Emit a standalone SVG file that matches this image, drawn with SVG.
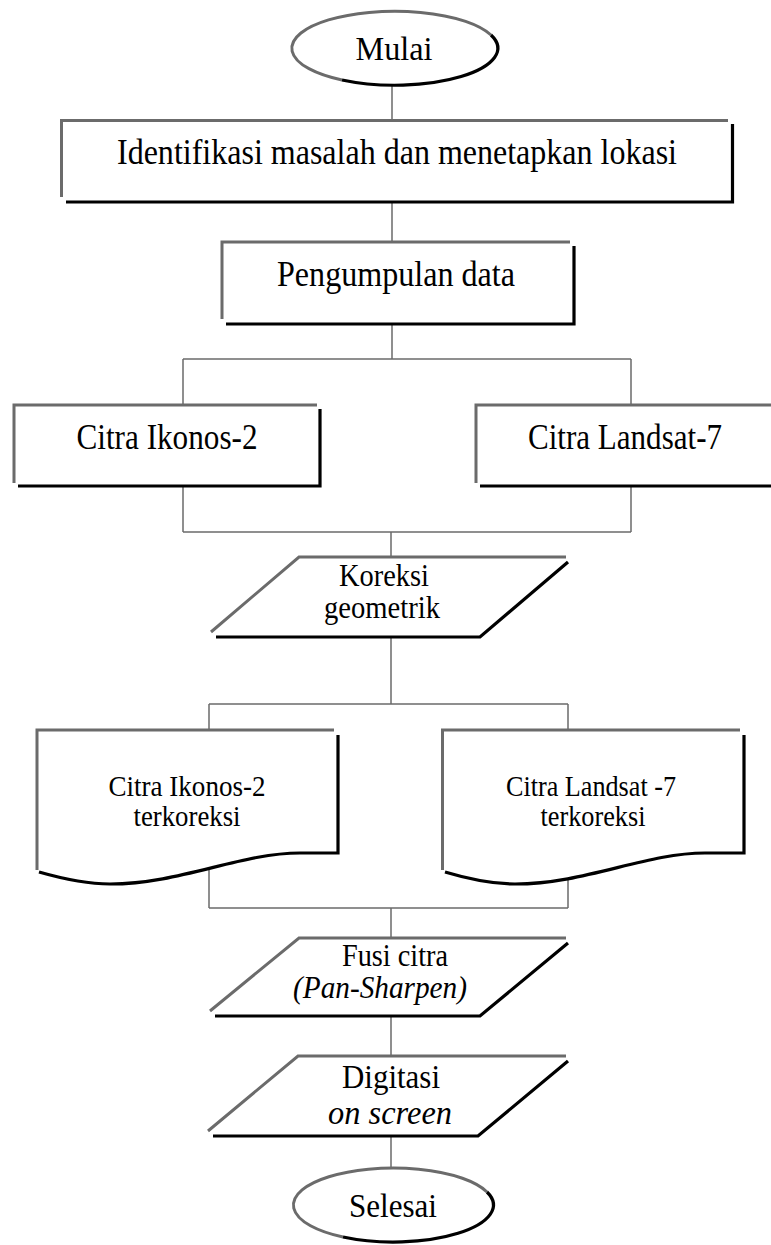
<svg xmlns="http://www.w3.org/2000/svg" width="771" height="1245" viewBox="0 0 771 1245">
<style>
.bg{fill:#fff}
.g{fill:none;stroke:#6b6b6b;stroke-width:3}
.k{fill:none;stroke:#000;stroke-width:3.2}
.c{fill:none;stroke:#6b6b6b;stroke-width:1.5}
.f{fill:#fff;stroke:none}
text{font-family:"Liberation Serif","Times New Roman",serif;fill:#000;text-anchor:middle}
.t32{font-size:32px}
.t36{font-size:36px}
.t31{font-size:31px}
.t30{font-size:30px}
.t33{font-size:33px}
.it{font-style:italic}
</style>
<rect class="bg" x="0" y="0" width="771" height="1245"/>
<g id="connectors">
<path class="c" d="M392 85V120M392 202V242M392 324V359M183 359H631M183 359V405M631 359V405"/>
<path class="c" d="M183 486V532M631 486V532M183 532H631M391 532V557"/>
<path class="c" d="M391 637V704M209 704H568M209 704V730M568 704V730"/>
<path class="c" d="M209 870V908M568 870V908M209 908H568M391 908V938"/>
<path class="c" d="M391 1016V1056M391 1136V1168"/>
</g>
<g id="mulai">
<ellipse class="f" cx="394" cy="48" rx="103" ry="37"/>
<path class="g" d="M342 80 A103 37 0 1 1 491 35"/>
<path class="k" d="M491 35 A103 37 0 0 1 342 80"/>
<text class="t32" x="394" y="60" style="font-size:33px" textLength="77" lengthAdjust="spacingAndGlyphs">Mulai</text>
</g>
<g id="identifikasi">
<path class="g" d="M61.5 197V120.5H728"/>
<path class="k" d="M732.5 124V202H66"/>
<text class="t36" x="397" y="164" textLength="560" lengthAdjust="spacingAndGlyphs">Identifikasi masalah dan menetapkan lokasi</text>
</g>
<g id="pengumpulan">
<path class="g" d="M222 319V242H570"/>
<path class="k" d="M574 246V324H226"/>
<text class="t36" x="396" y="286" textLength="238" lengthAdjust="spacingAndGlyphs">Pengumpulan data</text>
</g>
<g id="ikonos">
<path class="g" d="M14 483V405H317"/>
<path class="k" d="M320 409V486H18"/>
<text class="t36" x="167" y="449" textLength="181" lengthAdjust="spacingAndGlyphs">Citra Ikonos-2</text>
</g>
<g id="landsat">
<path class="g" d="M476 483V405H780"/>
<path class="k" d="M780 409V486H480"/>
<text class="t36" x="625" y="449" textLength="194" lengthAdjust="spacingAndGlyphs">Citra Landsat-7</text>
</g>
<g id="koreksi">
<path class="f" d="M299 557H567L480 637H212Z"/>
<path class="g" d="M211 632L299 557H566"/>
<path class="k" d="M568 562L480 637H216"/>
<text class="t31" x="384" y="586" textLength="90" lengthAdjust="spacingAndGlyphs">Koreksi</text>
<text class="t31" x="382" y="618" textLength="116" lengthAdjust="spacingAndGlyphs">geometrik</text>
</g>
<g id="ikonos-terkoreksi">
<path class="f" d="M37 730H338V853H300C240 853 180 884 110 884C85 884 60 878 37 872Z"/>
<path class="g" d="M37 870V730H334"/>
<path class="k" d="M338 735V853H300C240 853 180 884 110 884C85 884 60 878 39 872"/>
<text class="t30" x="187" y="796" textLength="157" lengthAdjust="spacingAndGlyphs">Citra Ikonos-2</text>
<text class="t30" x="187" y="826" textLength="107" lengthAdjust="spacingAndGlyphs">terkoreksi</text>
</g>
<g id="landsat-terkoreksi">
<path class="f" d="M442.5 730H744V853H705C645 853 585 884 515 884C490 884 465 878 442.5 872Z"/>
<path class="g" d="M442.5 870V730H740"/>
<path class="k" d="M744 735V853H705C645 853 585 884 515 884C490 884 465 878 445 872"/>
<text class="t30" x="591" y="796" textLength="170" lengthAdjust="spacingAndGlyphs">Citra Landsat -7</text>
<text class="t30" x="593" y="826" textLength="105" lengthAdjust="spacingAndGlyphs">terkoreksi</text>
</g>
<g id="fusi">
<path class="f" d="M299 938H567L480 1016H212Z"/>
<path class="g" d="M210 1011L299 938H566"/>
<path class="k" d="M568 943L480 1016H215"/>
<text class="t31" x="395" y="966" textLength="106" lengthAdjust="spacingAndGlyphs">Fusi citra</text>
<text class="t31 it" x="380" y="998" textLength="174" lengthAdjust="spacingAndGlyphs">(Pan-Sharpen)</text>
</g>
<g id="digitasi">
<path class="f" d="M298 1056H567L478 1136H210Z"/>
<path class="g" d="M208 1131L298 1056H566"/>
<path class="k" d="M568 1061L478 1136H213"/>
<text class="t33" x="391" y="1088" textLength="98" lengthAdjust="spacingAndGlyphs">Digitasi</text>
<text class="t33 it" x="390" y="1124" textLength="124" lengthAdjust="spacingAndGlyphs">on screen</text>
</g>
<g id="selesai">
<ellipse class="f" cx="393" cy="1205" rx="100" ry="37"/>
<path class="g" d="M343 1237 A100 37 0 1 1 487 1192"/>
<path class="k" d="M487 1192 A100 37 0 0 1 343 1237"/>
<text class="t32" x="393" y="1217" style="font-size:33px" textLength="88" lengthAdjust="spacingAndGlyphs">Selesai</text>
</g>
</svg>
